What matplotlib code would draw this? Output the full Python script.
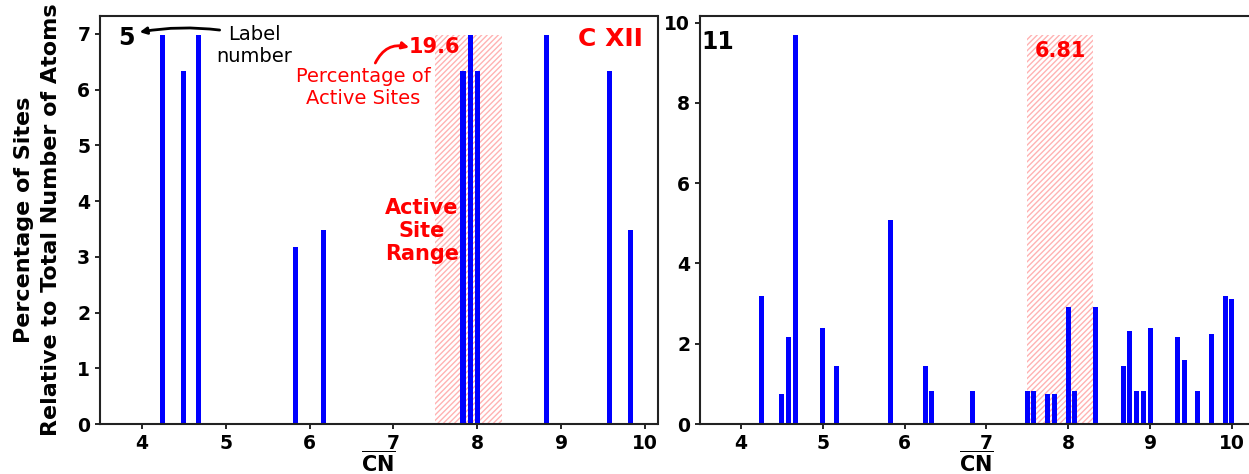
import matplotlib
matplotlib.use("Agg")
import matplotlib.pyplot as plt

# generalized coordination number bins and site percentages
cn_left = [4.25, 4.50, 4.67, 5.83, 6.17, 7.83, 7.92, 8.00, 8.83, 9.58, 9.83]
pct_left = [6.97, 6.33, 6.97, 3.17, 3.48, 6.33, 6.97, 6.33, 6.97, 6.33, 3.48]

cn_right = [4.25, 4.50, 4.58, 4.67, 5.00, 5.17, 5.83, 6.25, 6.33, 6.83,
            7.50, 7.58, 7.75, 7.83, 8.00, 8.08, 8.33, 8.67, 8.75, 8.83,
            8.92, 9.00, 9.33, 9.42, 9.58, 9.75, 9.92, 10.00]
pct_right = [3.20, 0.74, 2.16, 9.68, 2.38, 1.44, 5.07, 1.44, 0.81, 0.81,
             0.81, 0.81, 0.74, 0.74, 2.92, 0.81, 2.92, 1.44, 2.31, 0.81,
             0.81, 2.38, 2.16, 1.59, 0.81, 2.23, 3.20, 3.12]

active_range = (7.5, 8.3)
labels = ["5", "11"]
active_pct = ["19.6", "6.81"]

plt.rcParams['font.family'] = 'DejaVu Sans'

W, H = 1249, 474
fig = plt.figure(figsize=(W / 100, H / 100), dpi=100)
ax1 = fig.add_axes([100 / W, 1 - 424 / H, 557.5 / W, 408 / H])
ax2 = fig.add_axes([700 / W, 1 - 424 / H, 552 / W, 408 / H])

panels = [(ax1, cn_left, pct_left, (3.5, 10.15)),
          (ax2, cn_right, pct_right, (3.5, 10.245))]

for i, (ax, cn, pct, xlim) in enumerate(panels):
    top = max(pct)
    lo, hi = active_range
    ax.bar((lo + hi) / 2, top, width=hi - lo, fill=False, hatch='//////',
           edgecolor=(1, 0, 0, 0.3), linewidth=0, zorder=1)
    ax.bar(cn, pct, width=0.06, color='blue', zorder=2)
    ax.set_xlim(*xlim)
    ax.set_ylim(0, top * 1.05)
    ax.set_xticks(range(4, 11))
    ax.tick_params(labelsize=13.5, width=1.2)
    for t in ax.get_xticklabels() + ax.get_yticklabels():
        t.set_fontweight('bold')
    for s in ax.spines.values():
        s.set_linewidth(1.5)
        s.set_color('#222222')
    ax.set_xlabel(r'$\overline{\mathbf{CN}}$', fontsize=15, labelpad=-2)
    ax.text(3.72 if i else 3.81, top * (0.983 if i else 0.993), labels[i],
            fontsize=17, fontweight='bold', ha='center', va='center', zorder=5)

ax2.set_yticks([0, 2, 4, 6, 8, 10])

ax1.set_ylabel("Percentage of Sites\nRelative to Total Number of Atoms",
               fontsize=16, fontweight='bold', linespacing=1.45)
ax1.yaxis.set_label_coords(-0.07, 0.5)

# left panel annotations
ax1.text(5.34, 6.79, "Label\nnumber", fontsize=14, ha='center', va='center')
ax1.annotate("", xy=(3.94, 7.02), xytext=(4.96, 7.06),
             arrowprops=dict(arrowstyle='-|>', color='black', lw=2,
                             connectionstyle='arc3,rad=0.08'))
ax1.text(9.97, 6.90, "C XII", fontsize=18, fontweight='bold', color='red',
         ha='right', va='center')
ax1.text(7.49, 6.76, active_pct[0], fontsize=15, fontweight='bold',
         color='red', ha='center', va='center')
ax1.annotate("", xy=(7.22, 6.74), xytext=(6.77, 6.43),
             arrowprops=dict(arrowstyle='-|>', color='red', lw=2,
                             connectionstyle='arc3,rad=-0.45'))
ax1.text(6.64, 6.04, "Percentage of\nActive Sites", fontsize=14, color='red',
         ha='center', va='center')
ax1.text(7.34, 3.46, "Active\nSite\nRange", fontsize=15, fontweight='bold',
         color='red', ha='center', va='center', zorder=5)

# right panel annotation
ax2.text(7.90, 9.30, active_pct[1], fontsize=15, fontweight='bold',
         color='red', ha='center', va='center')

fig.savefig("out.png", dpi=100)
